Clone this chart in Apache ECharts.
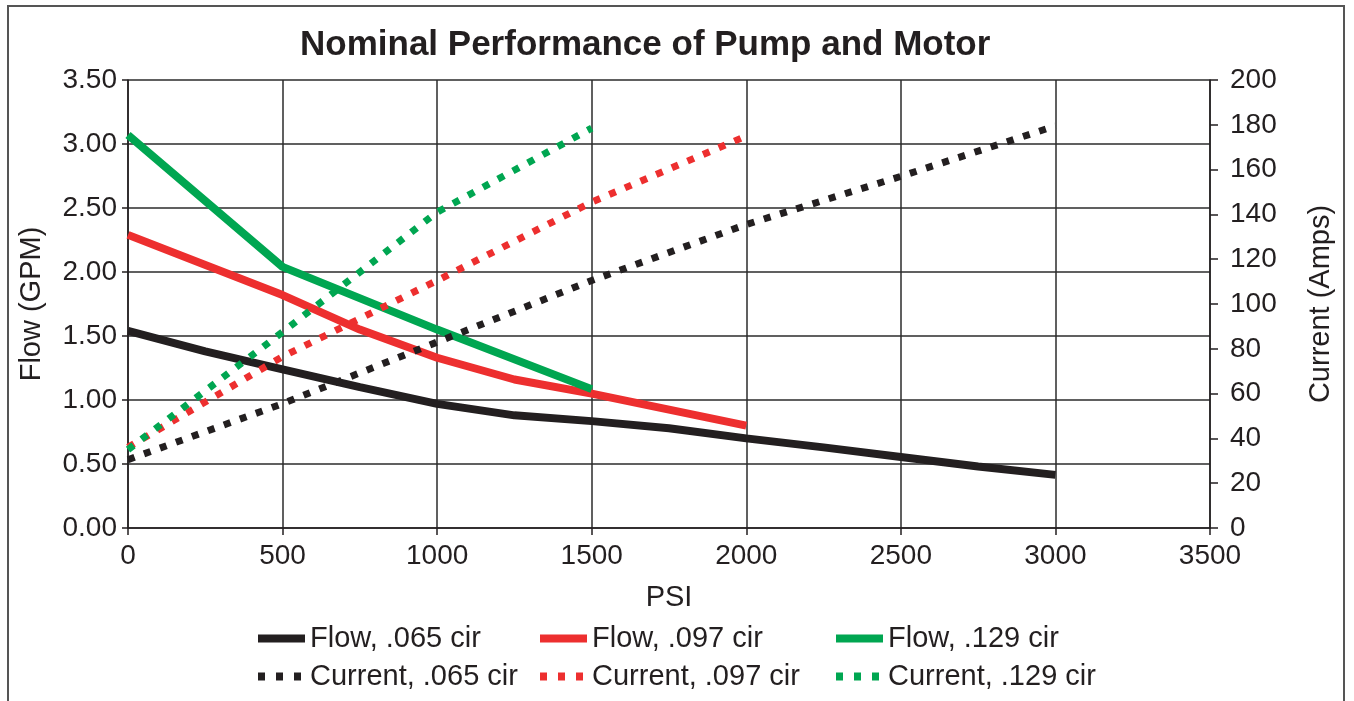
<!DOCTYPE html>
<html>
<head>
<meta charset="utf-8">
<title>Nominal Performance of Pump and Motor</title>
<script src="https://cdn.jsdelivr.net/npm/echarts@6/dist/echarts.min.js"></script>
<style>
  html, body { margin: 0; padding: 0; background: #fff; }
  #frame { position: absolute; left: 7px; top: 5px; width: 1338px; height: 720px;
           border: 2px solid #555; border-bottom: none; box-sizing: border-box; }
  #chart { position: absolute; left: 0; top: 0; width: 1354px; height: 701px; }
</style>
</head>
<body>
<div id="frame"></div>
<div id="chart"></div>
<script>
// PSI readings and flow (GPM) per circuit
const psiFlow065 = [0, 250, 500, 750, 1000, 1250, 1500, 1750, 2000, 2250, 2500, 2750, 3000];
const flow065 = [1.54, 1.38, 1.24, 1.10, 0.97, 0.88, 0.835, 0.78, 0.70, 0.63, 0.555, 0.48, 0.415];
const psiFlow097 = [0, 500, 750, 1000, 1250, 1500, 2000];
const flow097 = [2.29, 1.82, 1.55, 1.33, 1.16, 1.05, 0.80];
const psiFlow129 = [0, 500, 1000, 1500];
const flow129 = [3.07, 2.04, 1.55, 1.085];

// PSI readings and motor current (Amps) per circuit
const psiCur065 = [0, 500, 1000, 1500, 2000, 2500, 3000];
const cur065 = [30.5, 55.5, 83, 110.5, 135.5, 157, 179.5];
const psiCur097 = [0, 500, 1000, 1500, 2000];
const cur097 = [36, 76.5, 110.5, 145.5, 175];
const psiCur129 = [0, 500, 1000, 1500];
const cur129 = [35, 87.5, 141, 178.5];

const names = ['Flow, .065 cir', 'Flow, .097 cir', 'Flow, .129 cir',
               'Current, .065 cir', 'Current, .097 cir', 'Current, .129 cir'];

const BLACK = '#231f20', RED = '#ed2f2f', GREEN = '#00a651';
const FONT = "'Liberation Sans', Arial, Helvetica, sans-serif";
const DOTS = [7, 10];

// legend icons: a solid bar, or three square dots
const ICON_SOLID = 'rect';
const ICON_DOTS = 'path://M0,0h7v8h-7z M18,0h7v8h-7z M36,0h7v8h-7z M47,0h0v8h0z';

const zip = (xs, ys) => xs.map((x, i) => [x, ys[i]]);

const lineSeries = (name, data, color, yIdx, dotted) => ({
  name: name,
  type: 'line',
  yAxisIndex: yIdx,
  data: data,
  symbol: 'none',
  smooth: false,
  animation: false,
  lineStyle: { color: color, width: dotted ? 7 : 8, type: dotted ? DOTS : 'solid', cap: 'butt' },
  itemStyle: { color: color }
});

const legendAt = (name, left, top, dotted) => ({
  data: [name],
  left: left,
  top: top,
  padding: 0,
  icon: dotted ? ICON_DOTS : ICON_SOLID,
  itemWidth: 47,
  itemHeight: 8,
  itemGap: 0,
  selectedMode: false,
  textStyle: { fontFamily: FONT, fontSize: 29, color: '#231f20', padding: [0, 0, 0, 0] }
});

const chart = echarts.init(document.getElementById('chart'));

const axisLabelStyle = { fontFamily: FONT, fontSize: 28, color: '#231f20' };

chart.setOption({
  animation: false,
  title: {
    text: 'Nominal Performance of Pump and Motor',
    left: 295,
    top: 23,
    textStyle: { fontFamily: FONT, fontSize: 35, fontWeight: 'bold', color: '#231f20' }
  },
  grid: { left: 128, right: 144, top: 80, bottom: 173 },
  legend: [
    legendAt(names[0], 258, 624, false),
    legendAt(names[1], 540, 624, false),
    legendAt(names[2], 836, 624, false),
    legendAt(names[3], 258, 662, true),
    legendAt(names[4], 540, 662, true),
    legendAt(names[5], 836, 662, true)
  ],
  xAxis: {
    type: 'value',
    min: 0, max: 3500, interval: 500,
    name: 'PSI',
    nameLocation: 'middle',
    nameGap: 55,
    nameTextStyle: { fontFamily: FONT, fontSize: 29, color: '#231f20' },
    axisLine: { lineStyle: { color: '#231f20', width: 1.5 } },
    axisTick: { show: true, length: 7, lineStyle: { color: '#231f20', width: 1.5 } },
    axisLabel: Object.assign({ margin: 14, formatter: v => String(v) }, axisLabelStyle),
    splitLine: { show: true, lineStyle: { color: '#2b2b2b', width: 1.5 } }
  },
  yAxis: [
    {
      type: 'value',
      min: 0, max: 3.5, interval: 0.5,
      name: 'Flow (GPM)',
      nameLocation: 'middle',
      nameGap: 82,
      nameTextStyle: { fontFamily: FONT, fontSize: 29, color: '#231f20' },
      axisLine: { show: true, lineStyle: { color: '#231f20', width: 1.5 } },
      axisTick: { show: true, length: 6, lineStyle: { color: '#231f20', width: 1.5 } },
      axisLabel: Object.assign({ margin: 11, formatter: v => v.toFixed(2) }, axisLabelStyle),
      splitLine: { show: true, lineStyle: { color: '#2b2b2b', width: 1.5 } }
    },
    {
      type: 'value',
      min: 0, max: 200, interval: 20,
      name: 'Current (Amps)',
      nameLocation: 'middle',
      nameGap: 96,
      nameRotate: 90,
      nameTextStyle: { fontFamily: FONT, fontSize: 29, color: '#231f20' },
      axisLine: { show: true, lineStyle: { color: '#231f20', width: 1.5 } },
      axisTick: { show: true, length: 8, lineStyle: { color: '#231f20', width: 1.5 } },
      axisLabel: Object.assign({ margin: 20 }, axisLabelStyle),
      splitLine: { show: false }
    }
  ],
  series: [
    lineSeries(names[0], zip(psiFlow065, flow065), BLACK, 0, false),
    lineSeries(names[1], zip(psiFlow097, flow097), RED, 0, false),
    lineSeries(names[2], zip(psiFlow129, flow129), GREEN, 0, false),
    lineSeries(names[3], zip(psiCur065, cur065), BLACK, 1, true),
    lineSeries(names[4], zip(psiCur097, cur097), RED, 1, true),
    lineSeries(names[5], zip(psiCur129, cur129), GREEN, 1, true)
  ]
});
</script>
</body>
</html>
